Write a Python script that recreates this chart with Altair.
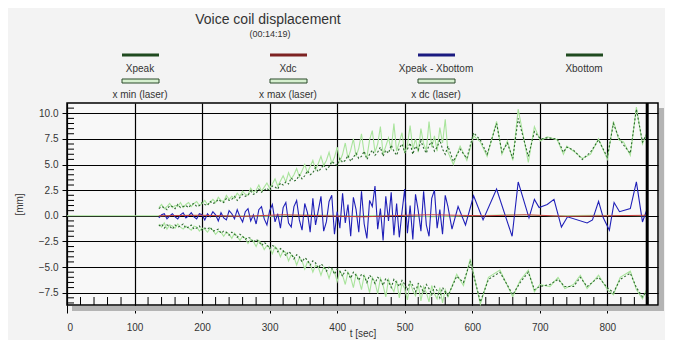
import altair as alt
import pandas as pd

# ---------------- data ----------------
series_names = ["Xpeak", "Xdc", "Xpeak - Xbottom", "Xbottom",
                "x min (laser)", "x max (laser)", "x dc (laser)"]

# densely sampled part of the run (seconds)
t_dense = list(range(136, 565, 4))

xpeak_dense = [
    0.7, 0.9, 0.8, 0.6, 1.0, 0.9, 0.7, 1.1, 0.8, 0.9,
    1.0, 0.8, 1.1, 1.2, 0.9, 1.0, 1.3, 1.1, 1.0, 1.4,
    1.2, 1.3, 1.6, 1.4, 1.3, 1.7, 1.5, 1.6, 1.9, 1.5,
    1.8, 2.1, 1.9, 2.0, 2.4, 2.1, 2.2, 2.6, 2.3, 2.5,
    2.7, 2.4, 2.9, 2.8, 2.6, 3.2, 3.0, 3.3, 3.1, 3.7,
    3.4, 3.5, 4.0, 3.6, 3.9, 4.4, 4.0, 4.2, 4.7, 4.3,
    4.6, 5.0, 4.5, 4.8, 5.3, 5.1, 4.9, 5.6, 5.2, 5.4,
    5.9, 5.3, 5.7, 6.1, 5.6, 5.8, 6.3, 5.5, 6.0, 6.4,
    5.9, 6.2, 6.7, 5.8, 6.4, 6.1, 6.9, 6.3, 5.9, 6.6,
    7.0, 6.2, 6.5, 7.1, 6.0, 6.8, 6.4, 7.3, 6.6, 6.1,
    6.9, 7.2, 6.3, 6.7, 7.4, 6.5, 6.0, 6.8]
xmax_laser_dense = [
    0.8, 1.1, 0.7, 0.9, 1.2, 0.8, 1.0, 0.9, 1.3, 0.8,
    1.1, 1.3, 0.9, 1.2, 1.4, 1.0, 1.2, 1.5, 1.1, 1.3,
    1.6, 1.3, 1.8, 1.5, 1.4, 2.0, 1.6, 1.9, 1.7, 2.2,
    1.9, 2.4, 2.1, 2.0, 2.7, 2.3, 2.5, 3.0, 2.4, 2.8,
    3.2, 2.7, 3.1, 3.6, 2.9, 3.4, 3.9, 3.3, 4.2, 3.6,
    4.0, 4.6, 3.8, 4.4, 5.0, 4.2, 4.8, 5.4, 4.5, 5.1,
    5.8, 4.9, 5.4, 6.2, 5.1, 5.7, 6.7, 5.3, 6.0, 7.1,
    5.6, 6.4, 7.5, 5.8, 6.6, 8.0, 6.1, 5.7, 7.4, 8.3,
    6.2, 7.0, 8.7, 6.0, 6.8, 7.6, 6.4, 9.0, 6.3, 7.2,
    8.1, 6.1, 6.9, 8.8, 6.5, 7.5, 6.2, 8.5, 7.0, 6.4,
    9.2, 6.7, 7.8, 6.3, 8.6, 7.1, 9.4, 6.2]
xbottom_dense = [
    -1.0, -0.8, -1.2, -0.9, -1.0, -1.3, -0.9, -1.1, -1.0, -0.8,
    -1.2, -1.1, -0.9, -1.3, -1.2, -1.0, -1.4, -1.2, -1.3, -1.1,
    -1.5, -1.4, -1.3, -1.7, -1.5, -1.6, -1.9, -1.6, -1.8, -2.1,
    -1.8, -2.0, -2.3, -2.1, -2.2, -2.6, -2.3, -2.5, -2.9, -2.6,
    -2.8, -3.2, -2.9, -3.0, -3.5, -3.2, -3.4, -3.9, -3.5, -3.7,
    -4.2, -3.8, -4.0, -4.5, -4.1, -4.3, -4.8, -4.4, -4.6, -5.1,
    -4.7, -4.9, -5.4, -5.0, -5.1, -5.7, -5.2, -5.4, -5.9, -5.3,
    -5.6, -6.1, -5.5, -5.8, -6.3, -5.7, -5.9, -6.5, -5.8, -6.1,
    -6.6, -6.0, -6.2, -6.8, -6.1, -6.4, -7.0, -6.2, -6.5, -6.9,
    -6.3, -6.7, -7.2, -6.4, -6.8, -7.4, -6.6, -6.9, -7.5, -6.7,
    -7.1, -7.7, -6.9, -7.3, -8.0, -7.0, -7.4, -7.8]
xmin_laser_dense = [
    -0.8, -1.1, -0.7, -1.3, -0.9, -1.0, -1.2, -0.8, -1.1, -1.3,
    -1.0, -1.2, -1.4, -1.0, -1.1, -1.5, -1.2, -1.3, -1.6, -1.2,
    -1.4, -1.8, -1.5, -1.6, -2.0, -1.6, -1.8, -2.2, -1.7, -2.0,
    -2.4, -2.0, -2.2, -2.7, -2.3, -2.5, -3.0, -2.4, -2.7, -3.3,
    -2.9, -3.1, -3.7, -3.0, -3.3, -4.0, -3.4, -3.6, -4.4, -3.8,
    -4.0, -4.8, -4.1, -4.4, -5.2, -4.5, -4.7, -5.5, -4.8, -5.0,
    -5.8, -5.0, -5.3, -6.1, -5.2, -5.5, -6.4, -5.4, -5.8, -6.7,
    -5.5, -6.0, -7.0, -5.7, -6.2, -7.2, -5.8, -6.4, -7.5, -6.0,
    -6.5, -7.6, -6.1, -6.8, -7.9, -6.2, -6.9, -7.4, -6.3, -8.0,
    -6.6, -7.1, -8.2, -6.5, -7.3, -7.8, -6.7, -8.3, -6.9, -7.5,
    -8.4, -6.8, -7.6, -8.1, -7.0, -8.5, -7.2, -7.9]
diff_dense = [
    -0.2, 0.1, 0.2, -0.3, 0.0, 0.2, -0.1, -0.3, 0.1, 0.3,
    -0.2, 0.0, 0.3, -0.1, -0.3, 0.2, 0.1, -0.4, 0.2, -0.1,
    0.4, 0.1, -0.5, 0.3, -0.2, -0.4, 0.5, 0.2, -0.3, 0.6,
    -0.1, -0.6, 0.4, 0.7, -0.5, 0.1, -0.8, 0.6, 0.9, -0.3,
    -0.9, 0.5, 1.1, -0.6, 0.2, -1.2, 0.8, 1.3, -0.7, -1.1,
    0.9, 1.5, -0.4, -1.4, 1.2, 0.3, -1.6, 1.7, -0.9, 0.5,
    1.9, -1.5, -0.6, 1.4, 2.0, -1.8, 0.4, -1.2, 2.2, -0.7,
    1.1, -2.0, 1.8, 0.6, -1.6, 2.4, -0.8, -2.2, 1.5, 0.9,
    2.9, -1.3, 0.7, -2.4, 1.9, -0.5, 2.3, -1.9, 1.2, -2.1,
    0.4, 2.6, -1.7, 1.0, -2.3, 2.1, 0.5, -1.5, 2.4, -0.9,
    -2.0, 1.7, 2.5, -1.2, 0.6, -1.8, 2.0, 0.9]

# sparsely sampled tail of the run
t_up_sparse = [572, 582, 592, 602, 612, 622, 636, 644, 652, 660,
               668, 683, 692, 701, 711, 726, 735, 740, 750, 763,
               775, 787, 800, 809, 817, 824, 834, 843, 852, 858]
xpeak_sparse = [5.3, 6.5, 5.6, 8.1, 7.4, 6.0, 9.0, 6.2, 7.1, 5.6,
                9.5, 5.8, 8.2, 7.5, 7.6, 7.5, 6.2, 6.7, 6.4, 5.5,
                6.2, 7.4, 5.7, 9.0, 7.6, 6.9, 6.1, 10.4, 7.2, 7.9]
xmax_laser_sparse = [5.0, 6.8, 5.4, 7.8, 7.2, 5.8, 9.2, 6.0, 7.3, 5.4,
                     10.4, 5.2, 8.7, 7.3, 7.7, 7.4, 6.0, 6.8, 6.3, 5.6,
                     6.0, 7.5, 5.5, 9.2, 7.4, 7.2, 5.9, 10.6, 7.0, 8.0]
t_low_sparse = [577, 587, 597, 612, 624, 641, 660, 671, 683, 692,
                700, 715, 727, 737, 750, 760, 770, 787, 800, 809,
                819, 834, 843, 852, 858]
xbottom_sparse = [-5.9, -6.5, -4.5, -8.4, -6.2, -5.5, -7.7, -6.5, -5.5, -7.2,
                  -6.9, -6.7, -6.2, -6.9, -6.9, -6.0, -6.9, -6.0, -7.0, -7.5,
                  -6.2, -5.6, -7.0, -7.9, -7.4]
xmin_laser_sparse = [-5.7, -6.8, -4.2, -8.6, -6.0, -5.3, -7.9, -6.3, -5.3, -7.4,
                     -6.7, -6.9, -6.0, -7.1, -6.7, -5.8, -7.1, -5.8, -7.2, -7.7,
                     -6.0, -5.4, -7.2, -8.1, -7.2]
t_diff_sparse = [570, 579, 590, 602, 616, 636, 659, 668, 684, 692,
                 699, 711, 721, 732, 741, 770, 778, 787, 794, 803,
                 810, 818, 834, 843, 852, 858]
diff_sparse = [-1.3, 0.9, -0.9, 1.95, -0.4, 2.6, -2.0, 3.3, -0.2, 1.6,
               0.8, 1.1, 1.6, -1.1, -0.1, -0.7, -0.4, 1.4, -0.2, -1.4,
               1.3, 0.4, 0.7, 3.3, -0.6, 0.5]

t_xdc = [136, 200, 260, 320, 380, 440, 500, 540, 580, 620, 680, 740, 800, 858]
xdc = [0.0, 0.05, -0.05, 0.1, 0.0, -0.1, 0.05, 0.1, 0.05, 0.0, 0.1, -0.05, 0.0, 0.05]
t_xdc_laser = [0, 40, 80, 120, 134, 180, 240, 300, 360, 420, 480, 540, 600, 660, 720, 780, 858]
xdc_laser = [0.0, 0.0, 0.0, 0.0, 0.0, 0.05, 0.0, -0.05, 0.1, 0.0, 0.05, -0.1, 0.0, 0.1, 0.0, 0.05, 0.0]

current_time = [859]   # 00:14:19
x_ticks = [0, 100, 200, 300, 400, 500, 600, 700, 800]
y_ticks = [-7.5, -5.0, -2.5, 0.0, 2.5, 5.0, 7.5, 10.0]

# ---------------- build table ----------------
rows = []
def add(name, ts, vs):
    for t, v in zip(ts, vs):
        rows.append({"t": t, "v": v, "series": name})

add("Xpeak", t_dense + t_up_sparse, xpeak_dense + xpeak_sparse)
add("x max (laser)", t_dense + t_up_sparse, xmax_laser_dense + xmax_laser_sparse)
add("Xbottom", t_dense + t_low_sparse, xbottom_dense + xbottom_sparse)
add("x min (laser)", t_dense + t_low_sparse, xmin_laser_dense + xmin_laser_sparse)
add("Xpeak - Xbottom", t_dense + t_diff_sparse, diff_dense + diff_sparse)
add("Xdc", t_xdc, xdc)
add("x dc (laser)", t_xdc_laser, xdc_laser)
df = pd.DataFrame(rows)

# ---------------- styling ----------------
W, H = 591, 202
FONT = "Liberation Sans"
TXT = "#333333"
LIGHT_GREEN = "#a9e49c"
DARK_GREEN = "#2c6a2c"
BLUE = "#1f1fb8"
RED = "#c84040"

xscale = alt.Scale(domain=[0, 875], nice=False, zero=False)
yscale = alt.Scale(domain=[-8.7, 11.0], nice=False, zero=False)

x_axis = alt.Axis(
    values=x_ticks, format="d", grid=True, gridColor="black", gridWidth=1.2,
    domain=False, tickColor="black", tickSize=8, tickWidth=1, labelPadding=9,
    labelOverlap=False,
    labelFont=FONT, labelFontSize=10, labelColor=TXT,
    title="t [sec]", titleFont=FONT, titleFontSize=10, titleFontWeight="normal",
    titleColor=TXT, titleY=23, titleBaseline="top")
y_axis = alt.Axis(
    values=y_ticks, format=".1f", grid=True, gridColor="black", gridWidth=1.2,
    domain=False, tickColor="black", tickSize=5, tickWidth=1, labelPadding=4,
    labelOverlap=False,
    labelFont=FONT, labelFontSize=10, labelColor=TXT,
    title="[mm]", titleFont=FONT, titleFontSize=10, titleFontWeight="normal",
    titleColor=TXT, titleX=-48, titleY=H / 2, titleAngle=270,
    titleAlign="center", titleBaseline="middle")
X = alt.X("t:Q", scale=xscale, axis=x_axis)
Y = alt.Y("v:Q", scale=yscale, axis=y_axis)

base = alt.Chart(df)
one = alt.Data(values=[{"k": 0}])

shadow_r = alt.Chart(one).mark_rect(color="#b4b4b4", clip=False).encode(
    x=alt.value(W + 1), x2=alt.value(W + 6), y=alt.value(5), y2=alt.value(H + 6))
shadow_b = alt.Chart(one).mark_rect(color="#b4b4b4", clip=False).encode(
    x=alt.value(5), x2=alt.value(W + 6), y=alt.value(H + 1), y2=alt.value(H + 6))

laser = base.transform_filter(
    alt.FieldOneOfPredicate(field="series", oneOf=["x max (laser)", "x min (laser)", "x dc (laser)"])
).mark_line(color=LIGHT_GREEN, strokeWidth=1.1).encode(x=X, y=Y, detail="series:N")

peaks = base.transform_filter(
    alt.FieldOneOfPredicate(field="series", oneOf=["Xpeak", "Xbottom"])
).mark_line(color=DARK_GREEN, strokeWidth=1.1, strokeDash=[2, 2]).encode(
    x=X, y=Y, detail="series:N")

diff_line = base.transform_filter(alt.datum.series == "Xpeak - Xbottom").mark_line(
    color=BLUE, strokeWidth=1.1).encode(x=X, y=Y)

xdc_line = base.transform_filter(alt.datum.series == "Xdc").mark_line(
    color=RED, strokeWidth=1).encode(x=X, y=Y)

now_rule = alt.Chart(pd.DataFrame({"t": current_time})).mark_rule(
    color="black", strokeWidth=3).encode(x=X)

minor_y = pd.DataFrame({"v": [i * 0.5 for i in range(-17, 22) if i % 5 != 0]})
minor_y_ticks = alt.Chart(minor_y).mark_rule(color="black", strokeWidth=1).encode(
    y=Y, x=alt.value(0), x2=alt.value(7))
minor_x = pd.DataFrame({"t": [i * 20 for i in range(1, 44) if i % 5 != 0]})
minor_x_ticks = alt.Chart(minor_x).mark_rule(color="black", strokeWidth=1).encode(
    x=X, y=alt.value(H - 8), y2=alt.value(H))

title = alt.Chart(one).mark_text(font=FONT, fontSize=14, color=TXT).encode(
    x=alt.value(201), y=alt.value(-83), text=alt.value("Voice coil displacement"))
subtitle = alt.Chart(one).mark_text(font=FONT, fontSize=9, color=TXT).encode(
    x=alt.value(203), y=alt.value(-69), text=alt.value("(00:14:19)"))

legend_colors = {"Xpeak": "#1f4a1f", "Xdc": "#7d2222", "Xpeak - Xbottom": "#1a1a80",
                 "Xbottom": "#1f4a1f"}
legend_layers = []
row1 = series_names[:4]
row2 = series_names[4:]
for col, name in enumerate(row1):
    cx = 73 + 148 * col
    legend_layers.append(alt.Chart(one).mark_rule(color=legend_colors[name], strokeWidth=3).encode(
        x=alt.value(cx - 18), x2=alt.value(cx + 19), y=alt.value(-48)))
    legend_layers.append(alt.Chart(pd.DataFrame({"name": [name]})).mark_text(
        font=FONT, fontSize=10, color=TXT).encode(
        x=alt.value(cx), y=alt.value(-34), text="name:N"))
for col, name in enumerate(row2):
    cx = 73 + 148 * col
    legend_layers.append(alt.Chart(one).mark_rect(
        fill="#d6f0cf", stroke="#2a4a2a", strokeWidth=1).encode(
        x=alt.value(cx - 18), x2=alt.value(cx + 19), y=alt.value(-24), y2=alt.value(-20)))
    legend_layers.append(alt.Chart(pd.DataFrame({"name": [name]})).mark_text(
        font=FONT, fontSize=10, color=TXT).encode(
        x=alt.value(cx), y=alt.value(-8), text="name:N"))

chart = alt.layer(
    laser, peaks, diff_line, xdc_line, now_rule, minor_y_ticks, minor_x_ticks,
    shadow_r, shadow_b, title, subtitle, *legend_layers
).properties(
    width=W, height=H,
    autosize=alt.AutoSizeParams(type="none"),
    padding={"left": 59, "top": 95, "right": 7, "bottom": 35},
).configure(background="#f3f3f3").configure_view(
    stroke="black", strokeWidth=1.5, fill="#f8f8f8"
).configure_axis(labelOverlap=False)

chart.save("out.html", embed_options={"renderer": "svg", "actions": False})
